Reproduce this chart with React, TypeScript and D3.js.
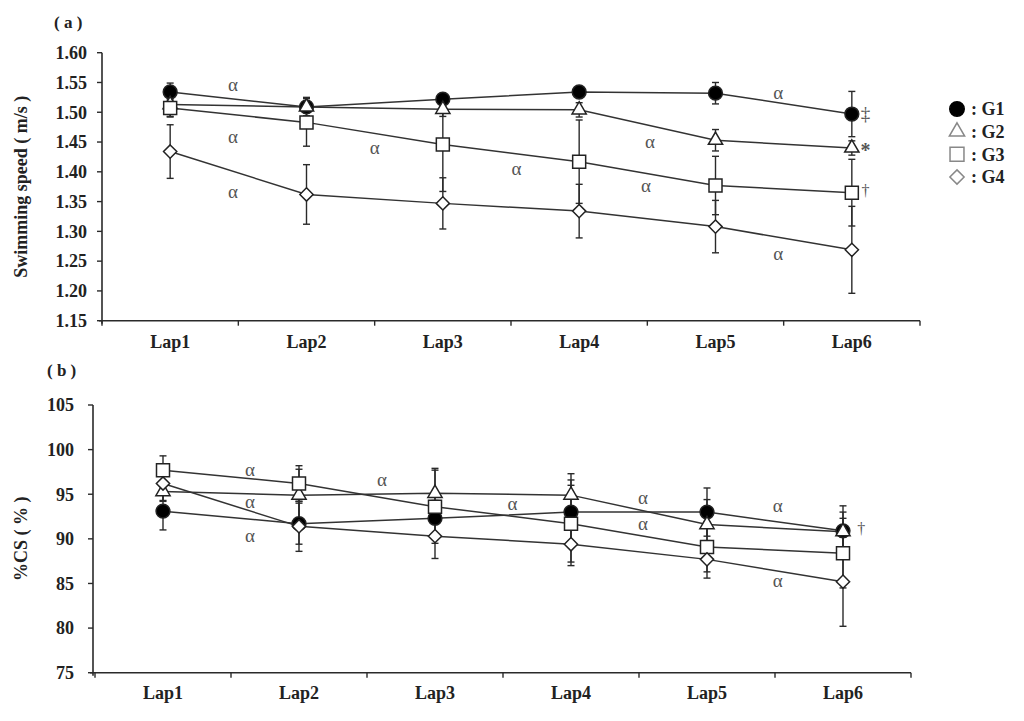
import React from 'react';
import * as d3 from 'd3';

const laps = ['Lap1', 'Lap2', 'Lap3', 'Lap4', 'Lap5', 'Lap6'];
const groups = ['G1', 'G2', 'G3', 'G4'];
const shapes = ['circle', 'triangle', 'square', 'diamond'];

// (a) swimming speed (m/s), mean and SD
const speedG1 = [1.534, 1.509, 1.522, 1.534, 1.532, 1.497];
const speedG2 = [1.513, 1.509, 1.505, 1.504, 1.453, 1.440];
const speedG3 = [1.507, 1.483, 1.446, 1.417, 1.377, 1.365];
const speedG4 = [1.434, 1.362, 1.347, 1.334, 1.308, 1.269];
const speedSdG1 = [0.015, 0.016, 0.008, 0.008, 0.018, 0.038];
const speedSdG2 = [0.020, 0.015, 0.012, 0.012, 0.018, 0.012];
const speedSdG3 = [0.015, 0.040, 0.079, 0.070, 0.049, 0.056];
const speedSdG4 = [0.045, 0.050, 0.043, 0.045, 0.044, 0.073];
const speedTicks = [1.15, 1.2, 1.25, 1.3, 1.35, 1.4, 1.45, 1.5, 1.55, 1.6];

// (b) %CS, mean and SD
const csG1 = [93.1, 91.7, 92.3, 93.0, 93.0, 90.9];
const csG2 = [95.3, 94.9, 95.1, 94.9, 91.6, 90.8];
const csG3 = [97.7, 96.2, 93.6, 91.7, 89.1, 88.4];
const csG4 = [96.2, 91.4, 90.3, 89.4, 87.7, 85.2];
const csSdG1 = [2.1, 2.3, 2.0, 3.6, 2.7, 2.8];
const csSdG2 = [1.0, 2.9, 2.8, 2.4, 2.8, 2.2];
const csSdG3 = [1.6, 2.0, 4.1, 4.3, 2.8, 3.9];
const csSdG4 = [2.0, 2.8, 2.5, 2.4, 2.1, 5.0];
const csTicks = [75, 80, 85, 90, 95, 100, 105];

// significance marks: [lap index position, value, text]
const speedMarks: [number, number, string][] = [
  [0.46, 1.547, 'α'], [0.46, 1.459, 'α'], [0.46, 1.368, 'α'],
  [1.5, 1.441, 'α'], [2.54, 1.406, 'α'], [3.52, 1.451, 'α'],
  [3.49, 1.377, 'α'], [4.46, 1.534, 'α'], [4.46, 1.263, 'α'],
  [5.1, 1.498, '‡'], [5.1, 1.436, '*'], [5.1, 1.368, '†'],
];
const csMarks: [number, number, string][] = [
  [0.64, 97.8, 'α'], [0.64, 94.2, 'α'], [0.64, 90.4, 'α'],
  [1.61, 96.7, 'α'], [2.57, 94.0, 'α'], [3.53, 94.6, 'α'],
  [3.53, 91.7, 'α'], [4.52, 93.7, 'α'], [4.52, 85.3, 'α'],
  [5.135, 91.2, '†'],
];

const FONT = '"Liberation Serif", "Times New Roman", Times, serif';
const INK = '#2a2a2a';

const symbolTypes: Record<string, any> = {
  circle: d3.symbolCircle,
  triangle: d3.symbolTriangle,
  square: d3.symbolSquare,
  diamond: (d3 as any).symbolDiamond2 || d3.symbolDiamond,
};
const symbolSizes: Record<string, number> = { circle: 150, triangle: 88, square: 169, diamond: 112 };
const markerPath = (shape: string, scale = 1) =>
  d3.symbol(symbolTypes[shape], symbolSizes[shape] * scale)() as string;

type Series = { name: string; shape: string; mean: number[]; sd: number[] };

const speedSeries: Series[] = [
  { name: groups[0], shape: shapes[0], mean: speedG1, sd: speedSdG1 },
  { name: groups[1], shape: shapes[1], mean: speedG2, sd: speedSdG2 },
  { name: groups[2], shape: shapes[2], mean: speedG3, sd: speedSdG3 },
  { name: groups[3], shape: shapes[3], mean: speedG4, sd: speedSdG4 },
];
const csSeries: Series[] = [
  { name: groups[0], shape: shapes[0], mean: csG1, sd: csSdG1 },
  { name: groups[1], shape: shapes[1], mean: csG2, sd: csSdG2 },
  { name: groups[2], shape: shapes[2], mean: csG3, sd: csSdG3 },
  { name: groups[3], shape: shapes[3], mean: csG4, sd: csSdG4 },
];

type PanelProps = {
  series: Series[];
  ticks: number[];
  fmt: (v: number) => string;
  yAxisX: number;
  xRange: [number, number];
  yRange: [number, number];
  labelPad: number;
  marks: [number, number, string][];
  yTitle: string;
  yTitleX: number;
  panelLabel: string;
  panelLabelPos: [number, number];
  lapLabelY: number;
};

const markFont = (t: string) => (t === 'α' ? 19 : t === '*' ? 20 : t === '‡' ? 19 : 16);

function Panel(p: PanelProps) {
  const x = d3.scaleBand<string>().domain(laps).range(p.xRange);
  const cx = (l: string) => (x(l) as number) + x.bandwidth() / 2;
  const xIdx = d3.scaleLinear().domain([0, laps.length - 1]).range([cx(laps[0]), cx(laps[laps.length - 1])]);
  const y = d3.scaleLinear().domain([p.ticks[0], p.ticks[p.ticks.length - 1]]).range(p.yRange);
  const line = d3.line<number>().x((_, i) => cx(laps[i])).y((d) => y(d));
  const y0 = y(p.ticks[0]);
  const y1 = y(p.ticks[p.ticks.length - 1]);
  const boundaries = [...laps.map((l) => x(l) as number), p.xRange[1]];
  const cap = 3.5;

  return (
    <g>
      <text x={p.panelLabelPos[0]} y={p.panelLabelPos[1]} fontFamily={FONT} fontWeight="bold" fontSize={17} fill="#222">
        {p.panelLabel}
      </text>
      <text
        transform={`translate(${p.yTitleX},${(y0 + y1) / 2}) rotate(-90)`}
        textAnchor="middle"
        dy="0.35em"
        fontFamily={FONT}
        fontWeight="bold"
        fontSize={18}
        fill="#222"
      >
        {p.yTitle}
      </text>
      {/* y axis */}
      <line x1={p.yAxisX} x2={p.yAxisX} y1={y1} y2={y0 + 3} stroke={INK} strokeWidth={1.6} />
      {p.ticks.map((t) => (
        <g key={t}>
          <line x1={p.yAxisX - 5} x2={p.yAxisX} y1={y(t)} y2={y(t)} stroke={INK} strokeWidth={1.4} />
          <text
            x={p.yAxisX - p.labelPad}
            y={y(t)}
            dy="0.35em"
            textAnchor="end"
            fontFamily={FONT}
            fontWeight="bold"
            fontSize={18}
            fill="#222"
          >
            {p.fmt(t)}
          </text>
        </g>
      ))}
      {/* x axis */}
      <line x1={p.yAxisX - 3} x2={p.xRange[1]} y1={y0} y2={y0} stroke={INK} strokeWidth={1.6} />
      {boundaries.map((b, i) => (
        <line key={i} x1={b} x2={b} y1={y0} y2={y0 + 5} stroke={INK} strokeWidth={1.4} />
      ))}
      {laps.map((l) => (
        <text
          key={l}
          x={cx(l)}
          y={p.lapLabelY}
          dy="0.35em"
          textAnchor="middle"
          fontFamily={FONT}
          fontWeight="bold"
          fontSize={18}
          fill="#222"
        >
          {l}
        </text>
      ))}
      {/* error bars */}
      {p.series.map((s) =>
        s.mean.map((m, i) => {
          const xx = cx(laps[i]);
          const top = y(m + s.sd[i]);
          const bot = y(m - s.sd[i]);
          return (
            <g key={s.name + i} stroke={INK} strokeWidth={1.4}>
              <line x1={xx} x2={xx} y1={top} y2={bot} />
              <line x1={xx - cap} x2={xx + cap} y1={top} y2={top} />
              <line x1={xx - cap} x2={xx + cap} y1={bot} y2={bot} />
            </g>
          );
        })
      )}
      {/* lines */}
      {p.series.map((s) => (
        <path key={s.name} d={line(s.mean) as string} fill="none" stroke="#333" strokeWidth={1.5} />
      ))}
      {/* markers */}
      {p.series.map((s) =>
        s.mean.map((m, i) => (
          <path
            key={s.name + 'm' + i}
            d={markerPath(s.shape)}
            transform={`translate(${cx(laps[i])},${y(m)})`}
            fill={s.shape === 'circle' ? '#000' : '#fff'}
            stroke="#222"
            strokeWidth={1.5}
          />
        ))
      )}
      {/* significance marks */}
      {p.marks.map(([xi, v, t], i) => (
        <text
          key={i}
          x={xIdx(xi)}
          y={y(v)}
          dy="0.35em"
          textAnchor="middle"
          fontFamily={FONT}
          fontSize={markFont(t)}
          fontWeight={t === '*' ? 'bold' : 'normal'}
          fill="#555"
        >
          {t}
        </text>
      ))}
    </g>
  );
}

function Legend() {
  const ly = d3.scalePoint<string>().domain(groups).range([109, 177]);
  return (
    <g>
      {groups.map((g, i) => (
        <g key={g} transform={`translate(957,${ly(g)})`}>
          <path
            d={markerPath(shapes[i], shapes[i] === 'circle' ? 1.1 : 1.15)}
            fill={shapes[i] === 'circle' ? '#000' : '#fff'}
            stroke={shapes[i] === 'circle' ? '#000' : '#888'}
            strokeWidth={1.5}
          />
          <text x={14} y={0} dy="0.35em" fontFamily={FONT} fontWeight="bold" fontSize={18} fill="#222">
            {': ' + g}
          </text>
        </g>
      ))}
    </g>
  );
}

export default function App() {
  return (
    <svg
      width={1024}
      height={721}
      viewBox="0 0 1024 721"
      style={{ position: 'absolute', left: 0, top: 0, background: '#fff' }}
    >
      <rect width={1024} height={721} fill="#fff" />
      <Panel
        series={speedSeries}
        ticks={speedTicks}
        fmt={(v) => v.toFixed(2)}
        yAxisX={102}
        xRange={[102, 920]}
        yRange={[320.7, 52.7]}
        labelPad={15}
        marks={speedMarks}
        yTitle="Swimming speed ( m/s )"
        yTitleX={21}
        panelLabel="( a )"
        panelLabelPos={[54, 28]}
        lapLabelY={342}
      />
      <Panel
        series={csSeries}
        ticks={csTicks}
        fmt={(v) => String(v)}
        yAxisX={93}
        xRange={[95, 911]}
        yRange={[672.7, 405]}
        labelPad={19}
        marks={csMarks}
        yTitle="%CS ( % )"
        yTitleX={21}
        panelLabel="( b )"
        panelLabelPos={[47, 376]}
        lapLabelY={693}
      />
      <Legend />
    </svg>
  );
}
